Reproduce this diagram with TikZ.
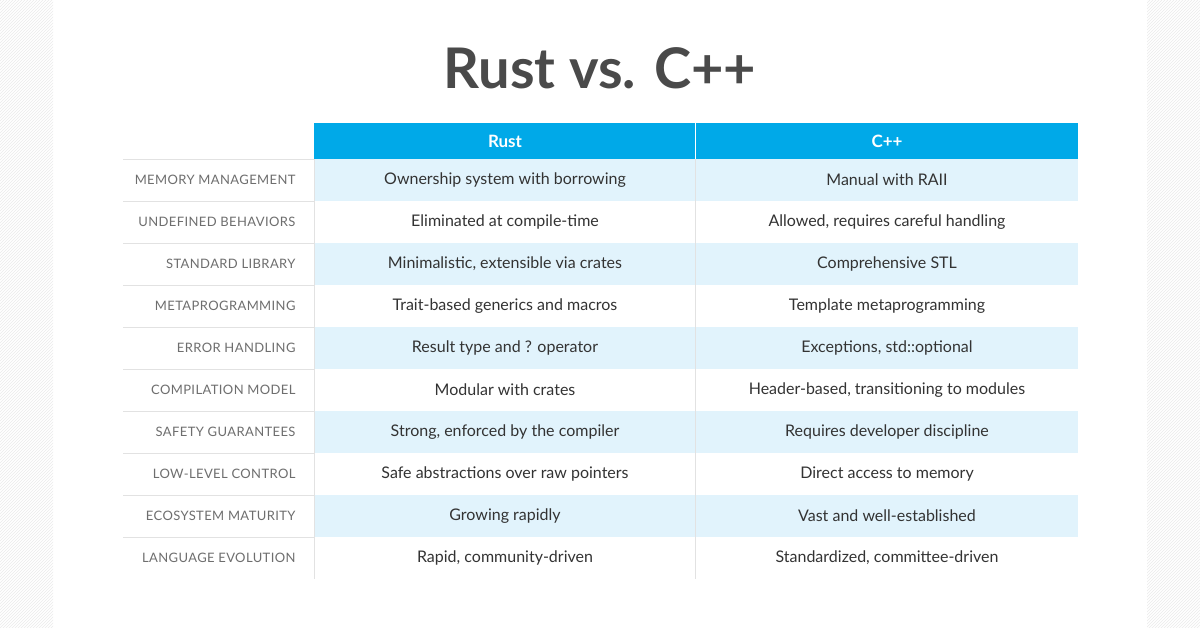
\documentclass[tikz,border=0pt]{standalone}
\usepackage{fontspec}
\setmainfont{Lato}
\usetikzlibrary{patterns}
\definecolor{hdr}{HTML}{00A9E8}
\definecolor{rowb}{HTML}{E1F3FC}
\definecolor{txt}{HTML}{333333}
\definecolor{lbl}{HTML}{6E6E6E}
\definecolor{ttl}{HTML}{4A4A4A}
\definecolor{sep}{HTML}{E2E2E2}
\begin{document}
\begin{tikzpicture}[x=1pt,y=-1pt,
  cell/.style={font=\fontsize{16}{18}\selectfont,text=txt,anchor=center},
  lab/.style={font=\fontsize{13}{15}\selectfont\addfontfeatures{LetterSpace=3},text=lbl,anchor=east},
  head/.style={font=\fontsize{17}{19}\selectfont\bfseries,text=white,anchor=center}]
\useasboundingbox (0,0) rectangle (1200,628);
\fill[white] (0,0) rectangle (1200,628);
\fill[pattern=north east lines,pattern color=black!8] (0,0) rectangle (53,628);
\fill[pattern=north east lines,pattern color=black!8] (1147,0) rectangle (1200,628);
\node[font=\fontsize{56}{60}\selectfont\bfseries,text=ttl] (title) at (600,68) {Rust vs. C++};
\fill[hdr] (314,123) rectangle (1078,159);
\draw[white,line width=1.5pt] (695.5,123) -- (695.5,159);
\node[head] (hr) at (505,141) {Rust};
\node[head] (hc) at (887,141) {C++};
\foreach \i/\a/\b/\c in {
0/MEMORY MANAGEMENT/Ownership system with borrowing/Manual with RAII,
1/UNDEFINED BEHAVIORS/Eliminated at compile-time/{Allowed, requires careful handling},
2/STANDARD LIBRARY/{Minimalistic, extensible via crates}/Comprehensive STL,
3/METAPROGRAMMING/Trait-based generics and macros/Template metaprogramming,
4/ERROR HANDLING/Result type and ? operator/{Exceptions, std::optional},
5/COMPILATION MODEL/Modular with crates/{Header-based, transitioning to modules},
6/SAFETY GUARANTEES/{Strong, enforced by the compiler}/Requires developer discipline,
7/LOW-LEVEL CONTROL/Safe abstractions over raw pointers/Direct access to memory,
8/ECOSYSTEM MATURITY/Growing rapidly/Vast and well-established,
9/LANGUAGE EVOLUTION/{Rapid, community-driven}/{Standardized, committee-driven}}{
  \pgfmathsetmacro{\yt}{159+42*\i}
  \pgfmathsetmacro{\ym}{\yt+21}
  \pgfmathtruncatemacro{\odd}{mod(\i,2)}
  \ifnum\odd=0 \fill[rowb] (314,\yt) rectangle (1078,\yt+42); \fi
  \draw[sep] (123,\yt) -- (314,\yt);
  \node[lab] (l\i) at (299,\ym) {\a};
  \node[cell] (r\i) at (505,\ym) {\b};
  \node[cell] (c\i) at (887,\ym) {\c};
}
\draw[sep] (314,159) -- (314,579);
\draw[sep] (695.5,159) -- (695.5,579);
\end{tikzpicture}
\end{document}
